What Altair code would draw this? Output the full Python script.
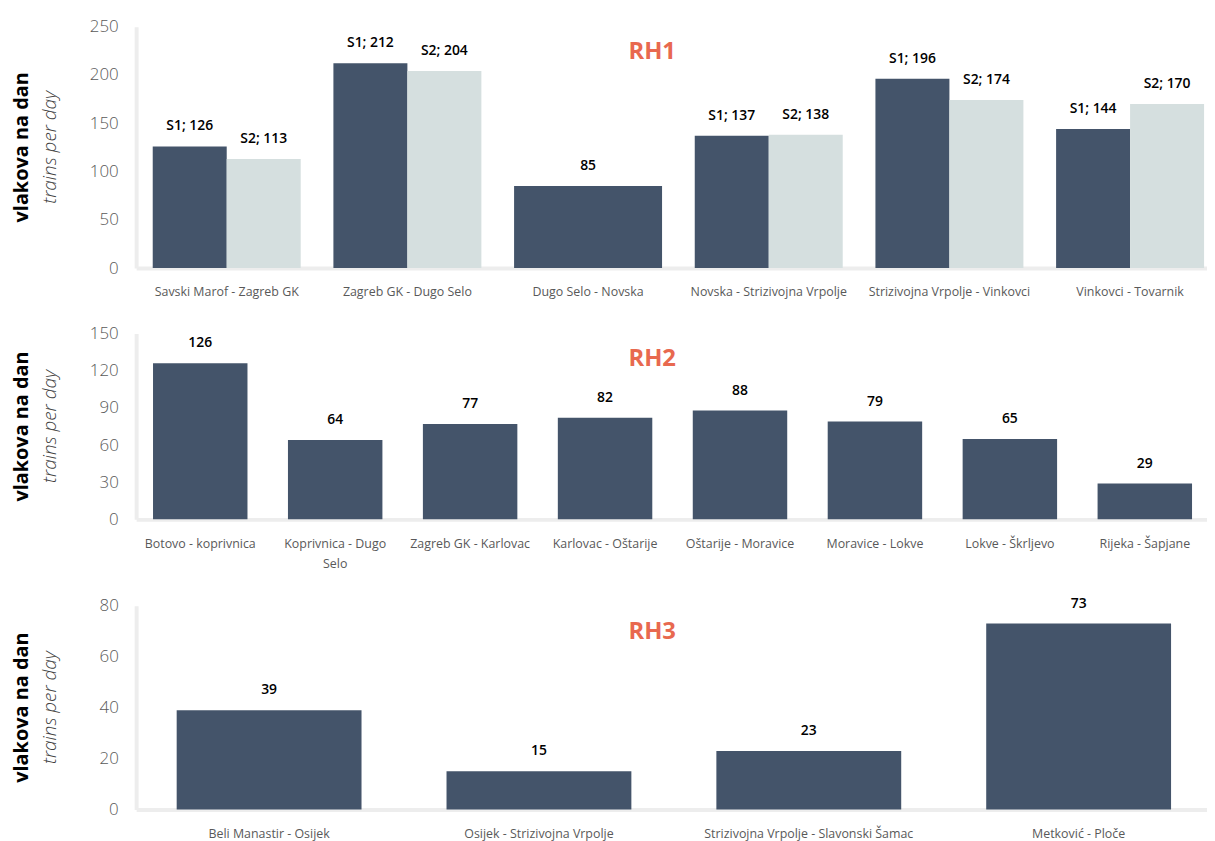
import altair as alt
import pandas as pd

# ---------------- data ----------------
rh1_routes = [
    "Savski Marof - Zagreb GK",
    "Zagreb GK - Dugo Selo",
    "Dugo Selo - Novska",
    "Novska - Strizivojna Vrpolje",
    "Strizivojna Vrpolje - Vinkovci",
    "Vinkovci - Tovarnik",
]
rh1_s1 = [126, 212, None, 137, 196, 144]
rh1_s2 = [113, 204, None, 138, 174, 170]
rh1_single = [None, None, 85, None, None, None]

rh2_routes = [
    "Botovo - koprivnica",
    "Koprivnica - Dugo Selo",
    "Zagreb GK - Karlovac",
    "Karlovac - Oštarije",
    "Oštarije - Moravice",
    "Moravice - Lokve",
    "Lokve - Škrljevo",
    "Rijeka - Šapjane",
]
rh2_values = [126, 64, 77, 82, 88, 79, 65, 29]

rh3_routes = [
    "Beli Manastir - Osijek",
    "Osijek - Strizivojna Vrpolje",
    "Strizivojna Vrpolje - Slavonski Šamac",
    "Metković - Ploče",
]
rh3_values = [39, 15, 23, 73]

series_names = ["S1", "S2"]
panel_titles = ["RH1", "RH2", "RH3"]
y_title_main = "vlakova na dan"
y_title_sub = "trains per day"

rh1_ticks = [0, 50, 100, 150, 200, 250]
rh2_ticks = [0, 30, 60, 90, 120, 150]
rh3_ticks = [0, 20, 40, 60, 80]

# ---------------- style ----------------
FONT = "Open Sans"
DARK = "#44546A"
LIGHT = "#D5DFDF"
RED = "#E8694F"
W = 1078

# ---------------- tables ----------------
grp_rows = []
for i, r in enumerate(rh1_routes):
    for s, vals in zip(series_names, [rh1_s1, rh1_s2]):
        if vals[i] is not None:
            grp_rows.append({"route": r, "series": s, "value": vals[i],
                             "label": f"{s}; {vals[i]}"})
grp_df = pd.DataFrame(grp_rows)
single_df = pd.DataFrame([{"route": r, "value": v, "label": str(v)}
                          for r, v in zip(rh1_routes, rh1_single) if v is not None])
rh2_df = pd.DataFrame({"route": rh2_routes, "value": rh2_values,
                       "label": [str(v) for v in rh2_values]})
rh3_df = pd.DataFrame({"route": rh3_routes, "value": rh3_values,
                       "label": [str(v) for v in rh3_values]})


def xenc(routes, pi, po, al, label_expr=None):
    axis_kw = dict(title=None, labelAngle=0, ticks=False, labelPadding=18,
                   labelFontSize=12.5, labelColor="#595959", labelFont=FONT,
                   labelLimit=0, labelLineHeight=20)
    if label_expr:
        axis_kw["labelExpr"] = label_expr
    return alt.X("route:N", sort=routes,
                 scale=alt.Scale(domain=routes, paddingInner=pi,
                                 paddingOuter=po, align=al),
                 axis=alt.Axis(**axis_kw))


def yenc(dmax, ticks):
    return alt.Y("value:Q",
                 scale=alt.Scale(domain=[0, dmax], nice=False, zero=True),
                 axis=alt.Axis(title=None, values=ticks, grid=False, ticks=False,
                               labelFontSize=17, labelFontWeight=300,
                               labelColor="#595959", labelFont=FONT,
                               labelPadding=18))


def annotations(title, h):
    t = alt.Chart(pd.DataFrame({"t": [title]})).mark_text(
        font=FONT, fontSize=24, fontWeight="bold", color=RED,
        baseline="middle", align="center"
    ).encode(x=alt.value(519.5), y=alt.value(26), text="t:N")
    m = alt.Chart(pd.DataFrame({"t": [y_title_main]})).mark_text(
        font=FONT, fontSize=20, fontWeight="bold", color="black",
        angle=270, baseline="alphabetic", align="center"
    ).encode(x=alt.value(-109), y=alt.value(h / 2), text="t:N")
    s = alt.Chart(pd.DataFrame({"t": [y_title_sub]})).mark_text(
        font=FONT, fontSize=19, fontStyle="italic", fontWeight=300,
        color="#404040", angle=270, baseline="alphabetic", align="center"
    ).encode(x=alt.value(-81), y=alt.value(h / 2), text="t:N")
    return [t, m, s]


TXT = dict(font=FONT, fontSize=14, fontWeight=600, color="black",
           baseline="middle", dy=-20)

# ---------------- panel 1 ----------------
H1 = 243
x1 = xenc(rh1_routes, 0.181, 0.054, 0.85)
y1 = yenc(250, rh1_ticks)
off = alt.XOffset("series:N", sort=series_names,
                  scale=alt.Scale(domain=series_names, paddingInner=0, paddingOuter=0))
bars1 = alt.Chart(grp_df).mark_bar().encode(
    x=x1, xOffset=off, y=y1,
    color=alt.Color("series:N", scale=alt.Scale(domain=series_names, range=[DARK, LIGHT]),
                    legend=None))
single1 = alt.Chart(single_df).mark_bar(color=DARK).encode(x=x1, y=y1)
lab1 = alt.Chart(grp_df).mark_text(**TXT).encode(x=x1, xOffset=off, y=y1, text="label:N")
lab1s = alt.Chart(single_df).mark_text(**TXT).encode(x=x1, y=y1, text="label:N")
p1 = alt.layer(bars1, single1, lab1, lab1s, *annotations(panel_titles[0], H1)).properties(
    width=W, height=H1)

# ---------------- panel 2 ----------------
H2 = 187
x2 = xenc(rh2_routes, 0.30, 0.118, 0.53,
          "datum.label == 'Koprivnica - Dugo Selo' ? ['Koprivnica - Dugo', 'Selo'] : datum.label")
y2 = yenc(150, rh2_ticks)
bars2 = alt.Chart(rh2_df).mark_bar(color=DARK).encode(x=x2, y=y2)
lab2 = alt.Chart(rh2_df).mark_text(**TXT).encode(x=x2, y=y2, text="label:N")
p2 = alt.layer(bars2, lab2, *annotations(panel_titles[1], H2)).properties(width=W, height=H2)

# ---------------- panel 3 ----------------
H3 = 205
x3 = xenc(rh3_routes, 0.315, 0.1417, 0.53)
y3 = yenc(80, rh3_ticks)
bars3 = alt.Chart(rh3_df).mark_bar(color=DARK).encode(x=x3, y=y3)
lab3 = alt.Chart(rh3_df).mark_text(**TXT).encode(x=x3, y=y3, text="label:N")
p3 = alt.layer(bars3, lab3, *annotations(panel_titles[2], H3)).properties(width=W, height=H3)

chart = alt.vconcat(p1, p2, p3, spacing=26).properties(
    padding={"left": 4, "top": 7, "right": 0, "bottom": 0}
).configure_view(stroke=None).configure_axis(
    domainColor="#EDEDED", domainWidth=4
).configure_axisY(
    labelFontSize=17, labelFontWeight=300, labelColor="#595959", labelFont=FONT
)

chart.save("out.html", embed_options={"renderer": "svg", "actions": False})
